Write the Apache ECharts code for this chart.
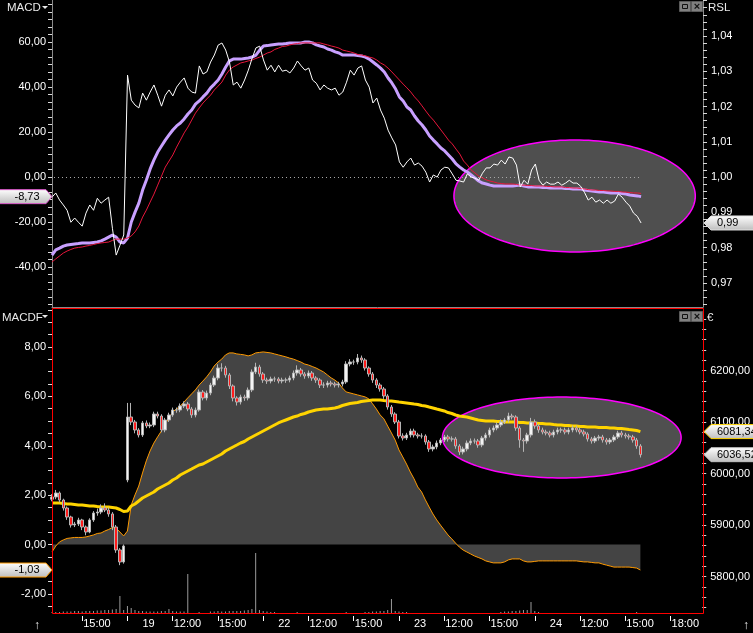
<!DOCTYPE html>
<html><head><meta charset="utf-8">
<script src="https://cdn.jsdelivr.net/npm/echarts@6/dist/echarts.min.js"></script>
<style>html,body{margin:0;padding:0;background:#000;overflow:hidden}#c{width:753px;height:633px}</style>
</head><body><div id="c"></div>
<script>
// ---- time axis (trading-hour index, 9 trading hours per day, 0 = 18th 09:00) ----
const startHour = 4;      // first bar: 18th, 13:00
const barHours = 0.25;    // 15-minute bars
const xTickValues = [6,9,12,15,18,21,24,27,30,33,36,39,42,45];
const xTickLabels = ['15:00','19','12:00','15:00','22','12:00','15:00','23','12:00','15:00','24','12:00','15:00','18:00'];
const macdTickLabels = [-40,-20,0,20,40,60];
const rslTickLabels = [0.97,0.98,0.99,1.00,1.01,1.02,1.03,1.04];
const macdfTickLabels = [-2,0,2,4,6,8];
const priceTickLabels = [5800,5900,6000,6100,6200];

// ---- upper panel ----
const rsl = [0.9943,0.9955,0.9935,0.9921,0.9906,0.9872,0.9884,0.9872,0.9861,0.9898,
0.9921,0.9906,0.9940,0.9926,0.9935,0.9943,0.9855,0.9779,0.9807,0.9836,
1.0289,1.0218,1.0204,1.0196,1.0238,1.0218,1.0241,1.0261,1.0232,1.0201,
1.0232,1.0247,1.0230,1.0255,1.0269,1.0281,1.0252,1.0241,1.0238,1.0315,
1.0292,1.0298,1.0326,1.0346,1.0374,1.0380,1.0360,1.0326,1.0261,1.0269,
1.0252,1.0275,1.0303,1.0337,1.0366,1.0371,1.0332,1.0303,1.0317,1.0298,
1.0317,1.0300,1.0303,1.0295,1.0309,1.0329,1.0315,1.0303,1.0309,1.0275,
1.0266,1.0247,1.0261,1.0252,1.0247,1.0252,1.0232,1.0241,1.0269,1.0303,
1.0289,1.0309,1.0315,1.0275,1.0255,1.0210,1.0224,1.0190,1.0167,1.0133,
1.0111,1.0091,1.0043,1.0028,1.0043,1.0054,1.0034,1.0040,1.0031,1.0014,
0.9986,1.0006,1.0000,1.0020,1.0028,1.0026,1.0009,0.9991,0.9989,0.9986,
1.0009,1.0000,0.9997,0.9991,1.0011,1.0026,1.0026,1.0037,1.0034,1.0048,
1.0037,1.0057,1.0054,1.0034,0.9972,0.9991,0.9980,1.0020,1.0037,0.9991,
0.9977,0.9986,0.9980,0.9980,0.9986,0.9977,0.9983,0.9991,0.9983,0.9983,
0.9974,0.9957,0.9935,0.9943,0.9929,0.9935,0.9926,0.9935,0.9926,0.9932,
0.9952,0.9943,0.9929,0.9918,0.9898,0.9889,0.9870];

const macd = [-34.7,-32.4,-31.6,-30.7,-30.2,-30.0,-29.8,-29.6,-29.3,-29.3,
-29.3,-29.1,-28.9,-28.4,-27.6,-26.7,-25.8,-26.7,-28.9,-29.3,
-27.1,-20.0,-15.6,-11.6,-5.8,-1.3,3.6,7.6,11.1,13.8,
16.4,18.7,20.9,22.7,24.0,25.8,28.0,29.8,32.4,33.8,
35.6,37.3,39.6,41.3,43.1,45.8,48.9,51.6,52.4,52.4,
52.4,52.7,52.9,53.3,54.2,56.4,58.2,58.4,58.7,58.9,
59.1,59.1,59.3,59.6,59.6,59.6,59.6,60.0,60.0,59.6,
58.7,58.2,57.8,56.9,56.4,55.6,55.1,54.2,54.2,54.2,
54.2,54.0,53.8,53.3,52.4,51.1,49.8,48.4,46.7,44.0,
41.8,39.1,35.6,33.8,31.1,29.8,27.1,24.9,23.1,20.9,
18.2,16.4,14.7,12.9,11.6,9.8,8.0,5.8,4.4,3.1,
2.2,0.9,-0.4,-1.8,-2.7,-3.1,-3.6,-4.0,-4.0,-4.0,
-4.0,-4.0,-4.0,-3.8,-3.6,-4.0,-4.4,-4.4,-4.4,-4.4,
-4.7,-4.7,-4.9,-4.9,-4.9,-4.9,-5.1,-5.1,-5.3,-5.3,
-5.3,-5.8,-6.0,-6.2,-6.4,-6.7,-6.7,-6.9,-7.1,-7.1,
-7.1,-7.3,-7.6,-8.0,-8.2,-8.4,-8.73];

const signal = [-37.8,-36.4,-35.1,-33.8,-32.9,-32.2,-31.6,-31.3,-31.1,-30.7,
-30.4,-30.0,-29.6,-29.3,-29.1,-28.9,-28.2,-27.6,-27.6,-27.6,
-27.1,-26.2,-24.4,-21.8,-17.8,-14.7,-11.1,-7.6,-3.6,0.4,
4.4,7.1,9.8,13.3,16.4,19.6,22.2,25.3,28.4,30.7,
32.9,34.7,36.4,38.7,40.4,42.2,45.3,47.6,48.9,49.8,
50.7,51.1,51.6,52.0,52.7,53.3,54.2,55.1,55.6,56.7,
57.3,58.0,58.2,58.7,59.1,59.3,59.6,59.6,59.6,59.6,
59.6,59.6,59.1,58.7,58.2,57.8,57.3,56.4,56.0,55.6,
55.1,54.4,54.2,53.8,53.3,52.9,52.0,50.7,49.8,48.4,
46.7,44.9,43.1,41.3,39.6,37.8,35.6,33.8,31.6,29.3,
27.1,25.3,23.1,20.9,18.7,16.4,14.7,12.4,10.2,7.1,
5.3,3.1,1.8,0.4,-0.4,-1.3,-1.8,-2.2,-2.7,-2.9,
-3.1,-3.1,-3.1,-3.3,-3.6,-3.6,-3.8,-3.8,-4.0,-4.0,
-4.0,-4.2,-4.2,-4.4,-4.4,-4.4,-4.7,-4.7,-4.9,-4.9,
-5.1,-5.3,-5.6,-5.8,-5.8,-6.0,-6.0,-6.2,-6.2,-6.4,
-6.4,-6.7,-6.7,-6.9,-7.1,-7.1,-7.3];

// ---- lower panel: price candles (15 min) ----
const closes = [5954.4,5962.1,5948.5,5933.0,5915.5,5900.0,5901.9,5909.7,5896.1,5886.4,
5909.7,5923.3,5925.2,5933.0,5929.1,5921.4,5896.1,5851.5,5828.2,5859.2,
6109.7,6100.0,6084.5,6074.8,6098.1,6092.2,6094.2,6115.5,6111.6,6084.5,
6103.9,6113.6,6123.3,6123.3,6131.1,6134.9,6125.2,6113.6,6123.3,6158.2,
6146.6,6156.3,6171.8,6185.4,6204.8,6204.8,6191.3,6169.9,6146.6,6138.8,
6148.5,6146.6,6162.1,6197.1,6206.8,6193.2,6181.5,6179.6,6183.5,6183.5,
6179.6,6181.5,6181.5,6185.4,6195.1,6201.0,6193.2,6189.3,6195.1,6185.4,
6181.5,6171.8,6171.8,6175.7,6173.8,6171.8,6173.8,6177.7,6212.6,6216.5,
6216.5,6224.3,6220.4,6204.8,6193.2,6181.5,6171.8,6164.1,6150.5,6129.1,
6115.5,6100.0,6072.8,6068.9,6074.8,6082.5,6074.8,6072.8,6072.8,6061.2,
6047.6,6051.5,6059.2,6065.0,6070.9,6067.0,6067.0,6053.4,6041.7,6047.6,
6059.2,6063.1,6063.1,6055.3,6068.9,6074.8,6084.5,6088.3,6094.2,6100.0,
6103.9,6111.6,6109.7,6088.3,6065.0,6063.1,6074.8,6100.0,6092.2,6084.5,
6080.6,6078.6,6074.8,6080.6,6084.5,6084.5,6080.6,6084.5,6088.3,6084.5,
6080.6,6076.7,6067.0,6063.1,6068.9,6070.9,6065.0,6061.2,6065.0,6070.9,
6078.6,6074.8,6072.8,6070.9,6065.0,6053.4,6036.52];
// opens follow the previous close except where the market gapped
const gapOpens = {0: 5950.0, 20: 5987.4};
const lows = [5946,5950,5944,5928,5910,5895,5896,5898,5890,5880,
5884,5906,5918,5921,5925,5916,5890,5846,5822,5825,
5983,6094,6078,6070,6071,6088,6088,6090,6107,6080,
6080,6100,6110,6118,6119,6127,6121,6108,6109,6120,
6142,6142,6152,6168,6181,6198,6186,6164,6140,6132,
6134,6141,6142,6158,6193,6188,6176,6174,6175,6178,
6175,6175,6176,6177,6181,6190,6188,6184,6185,6180,
6176,6166,6166,6167,6169,6167,6167,6169,6174,6208,
6211,6212,6215,6200,6188,6176,6166,6159,6145,6124,
6110,6096,6068,6064,6065,6070,6070,6068,6068,6056,
6042,6043,6047,6055,6061,6062,6062,6048,6036,6037,
6043,6055,6058,6050,6051,6064,6070,6080,6084,6090,
6096,6099,6105,6083,6050,6042,6058,6070,6087,6079,
6076,6074,6070,6070,6076,6079,6076,6076,6080,6080,
6076,6072,6062,6058,6059,6064,6060,6056,6057,6061,
6067,6070,6068,6066,6060,6048,6031];
const highs = [5960,5968,5965,5951,5936,5918,5906,5914,5912,5899,
5913,5927,5932,5940,5942,5934,5925,5900,5855,5862,
6137,6137,6104,6088,6102,6103,6099,6120,6120,6115,
6108,6118,6128,6128,6136,6140,6139,6129,6128,6163,
6162,6161,6176,6190,6212,6214,6209,6195,6173,6150,
6153,6153,6167,6202,6215,6211,6197,6186,6188,6188,
6187,6186,6186,6190,6200,6210,6205,6197,6200,6199,
6189,6185,6177,6180,6180,6178,6178,6182,6218,6222,
6221,6232,6229,6224,6208,6197,6185,6176,6168,6154,
6133,6119,6104,6078,6079,6087,6087,6079,6078,6076,
6065,6056,6064,6069,6075,6075,6072,6071,6057,6052,
6064,6068,6068,6067,6073,6079,6089,6093,6099,6105,
6108,6118,6116,6113,6092,6069,6079,6108,6105,6096,
6089,6085,6083,6085,6089,6089,6089,6089,6093,6093,
6089,6085,6080,6071,6073,6075,6075,6069,6069,6075,
6083,6083,6079,6077,6075,6069,6057];
const movingAvg = [5942.7,5942.7,5942.7,5941.7,5940.8,5940.8,5939.8,5938.8,5938.8,5937.9,
5936.9,5936.9,5935.9,5935.0,5935.0,5935.0,5934.0,5933.0,5930.1,5926.2,
5927.2,5936.9,5940.8,5946.6,5952.4,5956.3,5960.2,5964.1,5969.9,5973.8,
5977.7,5981.6,5987.4,5991.3,5997.1,6001.0,6004.9,6008.7,6012.6,6016.5,
6018.4,6022.3,6026.2,6030.1,6034.0,6037.9,6043.7,6047.6,6051.5,6055.3,
6059.2,6062.1,6067.0,6070.9,6074.8,6078.6,6082.5,6086.4,6090.3,6094.2,
6098.1,6101.0,6103.9,6106.8,6109.7,6111.6,6114.6,6116.5,6119.4,6121.4,
6123.3,6124.3,6125.2,6125.2,6126.2,6127.2,6129.1,6132.0,6134.0,6135.9,
6136.9,6137.9,6139.8,6140.8,6141.7,6142.7,6142.7,6142.7,6141.7,6140.8,
6140.8,6139.8,6138.8,6137.9,6136.9,6135.9,6134.9,6134.0,6132.0,6131.1,
6129.1,6127.2,6125.2,6123.3,6121.4,6118.4,6116.5,6113.6,6111.6,6110.7,
6109.7,6107.8,6105.8,6103.9,6102.9,6101.9,6101.9,6101.9,6101.0,6101.0,
6100.0,6100.0,6100.0,6100.0,6099.0,6099.0,6098.1,6098.1,6098.1,6097.1,
6097.1,6096.1,6096.1,6095.1,6094.2,6094.2,6093.2,6093.2,6092.2,6092.2,
6091.3,6091.3,6090.3,6090.3,6090.3,6089.3,6089.3,6089.3,6088.3,6088.3,
6087.4,6087.4,6086.4,6085.4,6084.5,6083.5,6081.34];
const macdf = [-0.30,-0.06,0.11,0.19,0.25,0.27,0.29,0.29,0.29,0.31,
0.35,0.39,0.45,0.47,0.55,0.61,0.69,0.67,0.51,0.35,
0.55,1.60,2.01,2.37,2.90,3.39,3.79,4.11,4.36,4.60,
4.88,5.12,5.37,5.49,5.61,5.77,5.94,6.10,6.26,6.46,
6.62,6.79,6.99,7.23,7.39,7.51,7.68,7.76,7.76,7.72,
7.70,7.68,7.64,7.68,7.76,7.78,7.80,7.78,7.76,7.72,
7.68,7.64,7.60,7.55,7.51,7.45,7.39,7.31,7.27,7.21,
7.15,7.07,6.99,6.87,6.75,6.66,6.54,6.34,6.18,6.14,
6.10,6.06,6.02,5.98,5.90,5.70,5.49,5.25,5.09,4.80,
4.52,4.23,3.83,3.55,3.26,2.94,2.66,2.33,2.13,1.81,
1.52,1.24,1.00,0.79,0.59,0.39,0.23,0.06,-0.10,-0.22,
-0.30,-0.38,-0.46,-0.52,-0.58,-0.66,-0.70,-0.74,-0.74,-0.74,
-0.70,-0.62,-0.58,-0.58,-0.58,-0.66,-0.70,-0.70,-0.68,-0.66,
-0.66,-0.66,-0.66,-0.66,-0.66,-0.66,-0.66,-0.66,-0.66,-0.66,
-0.68,-0.70,-0.70,-0.72,-0.74,-0.74,-0.79,-0.83,-0.87,-0.91,
-0.91,-0.91,-0.91,-0.91,-0.93,-0.95,-1.03];
const volume = [1,1,1,1.5,1.5,1.5,2,2,1.5,2,
2,2,2.5,2.5,3,3,3.5,4,17,3,
7,5,3,2,2,1.5,1.5,1.5,1.5,2,
2,4,2,1.5,1.5,1.5,39,0,0,1,
0,0,1.5,1.5,2,1.5,1.5,2,2,2,
2,2.5,3,4,60,3,2,1.5,1,1,
0,0,0,0,0,1,0,0,0,0,
0,0,0,0,0,0,0,0,1,0,
0,0,0,1,1,1.5,1.5,2,2,3,
14,2,1.5,1,1,0,0,0,0,0,
0,0,0,0,0,0,0,0,0,0,
0,0,0,0,0,0,0,0,0,1,
1.5,1.5,2,2,2.5,3,3,11,2,1,
0,0,0,0,0,0,0,0,0,0,
0,0,0,0,0,0,0,0,0,0,
0,0,0,0,0,1,0];

// highlighted zones (centre and half-extent in axis units)
const zoneTop = [38.6, -8.44, 7.99, 24.9];        // time, MACD
const zoneBottom = [37.79, 6069.9, 7.91, 78.6];   // time, price
const zeroLineEnd = 42.8;                          // dotted MACD zero line ends here

// ---------------------------------------------------------------
const FONT = 'Liberation Sans';
const times = closes.map((_, i) => startHour + i * barHours);
const pairs = arr => arr.map((v, i) => [times[i], v]);
const fmt = v => v.toFixed(2).replace('.', ',');
const steps = (a, b, s) => { const r = []; for (let k = Math.round(a / s); k * s <= b + 1e-9; k++) r.push(+(k * s).toFixed(6)); return r; };

const candles = closes.map((c, i) => {
  const o = gapOpens[i] !== undefined ? gapOpens[i] : closes[i - 1];
  return [times[i], o, c, lows[i], highs[i]];
});

const ellipseItem = (params, api) => {
  const c = api.coord([api.value(0), api.value(1)]);
  const s = api.size([api.value(2), api.value(3)]);
  const pts = [];
  for (let k = 0; k < 160; k++) { const a = k / 160 * Math.PI * 2; pts.push([c[0] + s[0] * Math.cos(a), c[1] + s[1] * Math.sin(a)]); }
  return { type: 'polygon', shape: { points: pts }, style: { fill: '#4f4f4f', stroke: '#ff00ff', lineWidth: 1.5 } };
};
// dotted zero line drawn as 1px dots through the axis scale
const dottedItem = (params, api) => {
  const a = api.coord([api.value(0), 0]);
  const b = api.coord([api.value(1), 0]);
  const y = Math.round(a[1]);
  const kids = [];
  for (let x = Math.round(a[0]) + 2; x <= b[0]; x += 4) kids.push({ type: 'rect', shape: { x: x, y: y, width: 1, height: 1 }, style: { fill: '#a8a8a8' } });
  return { type: 'group', children: kids };
};

const lbl = { color: '#ffffff', fontFamily: FONT, fontSize: 11 };
const tick = { lineStyle: { color: '#d8d8d8', width: 1 }, length: 4 };
function yAx(grid, pos, min, max, tickVals, labVals, margin, lineColor) {
  return {
    gridIndex: grid, type: 'value', position: pos, min, max, scale: true,
    axisLine: { show: !!lineColor, onZero: false, lineStyle: { color: lineColor || '#888' } },
    axisTick: Object.assign({ show: true, customValues: tickVals }, tick),
    axisLabel: Object.assign({ customValues: labVals, margin, formatter: fmt }, lbl),
    splitLine: { show: false }
  };
}

const chart = echarts.init(document.getElementById('c'), null, { renderer: 'canvas' });
chart.setOption({
  backgroundColor: '#000000',
  animation: false,
  grid: [
    { left: 52, right: 50, top: 0, height: 307 },
    { left: 52, right: 50, top: 309, height: 304 }
  ],
  xAxis: [
    { gridIndex: 0, type: 'value', min: 4, max: 47.1,
      axisLine: { show: true, onZero: false, lineStyle: { color: '#8a8a8a' } },
      axisTick: { show: false }, axisLabel: { show: false }, splitLine: { show: false } },
    { gridIndex: 1, type: 'value', min: 4, max: 47.1, offset: 3,
      axisLine: { show: false, onZero: false },
      axisTick: { show: true, customValues: xTickValues, length: 5, lineStyle: { color: '#ffffff' } },
      axisLabel: { customValues: xTickValues, margin: 2, align: 'left', color: '#fff', fontFamily: FONT, fontSize: 11,
        formatter: v => { const s = xTickLabels[xTickValues.indexOf(v)] || ''; return s.indexOf(':') >= 0 ? '{t|' + s + '}' : '{d|' + s + '}'; },
        rich: { t: { color: '#fff', fontFamily: FONT, fontSize: 11, padding: [0, 0, 0, 1] },
                d: { color: '#fff', fontFamily: FONT, fontSize: 11, padding: [0, 0, 0, 15] } } },
      splitLine: { show: false } }
  ],
  yAxis: [
    yAx(0, 'left', -57.78, 78.67, steps(-57.78, 78.67, 20 / 6), macdTickLabels, 6, '#8a8a8a'),
    yAx(0, 'right', 0.96319, 1.05018, steps(0.96319, 1.05018, 0.002), rslTickLabels, 8, '#8a8a8a'),
    yAx(1, 'left', -2.769, 9.538, steps(-2.769, 9.538, 0.5), macdfTickLabels, 6, null),
    yAx(1, 'right', 5729.1, 6319.4, steps(5729.1, 6319.4, 20), priceTickLabels, 8, null),
    { gridIndex: 1, type: 'value', min: 0, max: 304, show: false }
  ],
  series: [
    { type: 'custom', xAxisIndex: 0, yAxisIndex: 0, z: 1, silent: true, renderItem: ellipseItem, data: [zoneTop], encode: { x: 0, y: 1 } },
    { type: 'custom', xAxisIndex: 1, yAxisIndex: 3, z: 1, silent: true, renderItem: ellipseItem, data: [zoneBottom], encode: { x: 0, y: 1 } },
    { type: 'custom', xAxisIndex: 0, yAxisIndex: 0, z: 2, silent: true, renderItem: dottedItem, data: [[startHour, zeroLineEnd]], encode: { x: [0, 1] } },
    { name: 'MACD', type: 'line', xAxisIndex: 0, yAxisIndex: 0, z: 3, symbol: 'none', data: pairs(macd),
      lineStyle: { color: '#c8a0ff', width: 3 } },
    { name: 'Signal', type: 'line', xAxisIndex: 0, yAxisIndex: 0, z: 4, symbol: 'none', data: pairs(signal),
      lineStyle: { color: '#e8163c', width: 1 } },
    { name: 'RSL', type: 'line', xAxisIndex: 0, yAxisIndex: 1, z: 5, symbol: 'none', data: pairs(rsl),
      lineStyle: { color: '#ffffff', width: 1 } },
    { name: 'MACDF', type: 'line', xAxisIndex: 1, yAxisIndex: 2, z: 2, symbol: 'none', data: pairs(macdf),
      lineStyle: { color: '#ff9a00', width: 1 }, areaStyle: { color: '#444444', opacity: 1 } },
    { name: 'Vol', type: 'bar', xAxisIndex: 1, yAxisIndex: 4, z: 2, barWidth: 1, data: pairs(volume),
      itemStyle: { color: '#9a9a9a' } },
    { name: 'MA', type: 'line', xAxisIndex: 1, yAxisIndex: 3, z: 3, symbol: 'none', data: pairs(movingAvg),
      lineStyle: { color: '#ffd400', width: 3 } },
    { name: 'Price', type: 'candlestick', xAxisIndex: 1, yAxisIndex: 3, z: 4, barWidth: 3,
      dimensions: ['t', 'open', 'close', 'lowest', 'highest'],
      encode: { x: 't', y: ['open', 'close', 'lowest', 'highest'] },
      data: candles,
      itemStyle: { color: '#f4f4f4', color0: '#ff1c1c', borderColor: '#b4b4b4', borderColor0: '#b4b4b4', borderWidth: 1 } }
  ]
});

// ---- decorations and last-value flags ----
const grad = () => new echarts.graphic.LinearGradient(0, 0, 0, 1, [{ offset: 0, color: '#ffffff' }, { offset: 1, color: '#bdbdbd' }]);
function flagLeft(y, text, border) {
  return [
    { type: 'polygon', z: 50, shape: { points: [[-1, y - 7], [46, y - 7], [52, y], [46, y + 7], [-1, y + 7]] }, style: { fill: grad(), stroke: border, lineWidth: 1 } },
    { type: 'text', z: 51, x: 27, y: y, style: { text, fill: '#000', font: '11px ' + FONT, align: 'center', verticalAlign: 'middle' } }
  ];
}
function flagRight(y, text, border) {
  return [
    { type: 'polygon', z: 50, shape: { points: [[704, y], [711, y - 7], [760, y - 7], [760, y + 7], [711, y + 7]] }, style: { fill: grad(), stroke: border, lineWidth: 1 } },
    { type: 'text', z: 51, x: 717, y: y, style: { text, fill: '#000', font: '11px ' + FONT, align: 'left', verticalAlign: 'middle' } }
  ];
}
function buttons(y) {
  return [
    { type: 'rect', z: 50, shape: { x: 679.5, y: y + 0.5, width: 11, height: 10 }, style: { fill: '#808080', stroke: '#5a5a5a' } },
    { type: 'rect', z: 51, shape: { x: 682.5, y: y + 3.5, width: 5, height: 4 }, style: { fill: 'none', stroke: '#111', lineWidth: 1 } },
    { type: 'rect', z: 50, shape: { x: 691.5, y: y + 0.5, width: 11, height: 10 }, style: { fill: '#808080', stroke: '#5a5a5a' } },
    { type: 'text', z: 51, x: 697, y: y + 6, style: { text: '×', fill: '#111', font: 'bold 11px ' + FONT, align: 'center', verticalAlign: 'middle' } }
  ];
}
const last = a => a[a.length - 1];
const yMacd = chart.convertToPixel({ yAxisIndex: 0 }, last(macd));
const yRsl = chart.convertToPixel({ yAxisIndex: 1 }, last(rsl));
const yMacdf = chart.convertToPixel({ yAxisIndex: 2 }, last(macdf));
const yMa = chart.convertToPixel({ yAxisIndex: 3 }, last(movingAvg));
const yClose = chart.convertToPixel({ yAxisIndex: 3 }, last(closes));

const elements = [].concat(
  [{ type: 'rect', z: 40, shape: { x: 52.5, y: 308.5, width: 651, height: 305 }, style: { fill: 'none', stroke: '#ff0000', lineWidth: 1 } }],
  [{ type: 'text', z: 50, x: 7, y: 8, style: { text: 'MACD', fill: '#e8e8e8', font: '11.5px ' + FONT, verticalAlign: 'middle' } },
   { type: 'polygon', z: 50, shape: { points: [[42, 6], [48, 6], [45, 9]] }, style: { fill: '#e8e8e8' } },
   { type: 'text', z: 50, x: 2, y: 318, style: { text: 'MACDF', fill: '#e8e8e8', font: '11.5px ' + FONT, verticalAlign: 'middle' } },
   { type: 'polygon', z: 50, shape: { points: [[42, 315], [48, 315], [45, 318]] }, style: { fill: '#e8e8e8' } },
   { type: 'text', z: 50, x: 708, y: 8, style: { text: 'RSL', fill: '#e8e8e8', font: '11.5px ' + FONT, verticalAlign: 'middle' } },
   { type: 'text', z: 50, x: 707, y: 318, style: { text: '€', fill: '#e8e8e8', font: '11.5px ' + FONT, verticalAlign: 'middle' } },
   { type: 'text', z: 50, x: 37, y: 626, style: { text: '↑', fill: '#e8e8e8', font: '12px ' + FONT, align: 'center', verticalAlign: 'middle' } },
   { type: 'text', z: 50, x: 746, y: 626, style: { text: '↑', fill: '#e8e8e8', font: '12px ' + FONT, align: 'center', verticalAlign: 'middle' } }],
  buttons(1), buttons(311),
  flagLeft(yMacd, fmt(last(macd)), '#d858c8'),
  flagLeft(yMacdf, fmt(last(macdf)), '#ff9a00'),
  flagRight(yRsl, fmt(last(rsl)), '#e0e0e0'),
  flagRight(yMa, fmt(last(movingAvg)), '#ffd400'),
  flagRight(yClose, fmt(last(closes)), '#c0c0c0')
);
chart.setOption({ graphic: { elements } });
</script>
</body></html>
